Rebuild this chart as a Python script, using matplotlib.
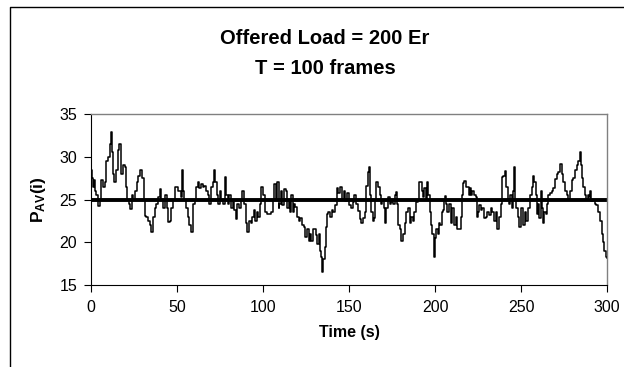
import matplotlib
matplotlib.use('Agg')
import matplotlib.pyplot as plt
from matplotlib.lines import Line2D

plt.rcParams['font.family'] = ['Liberation Sans', 'DejaVu Sans']
plt.rcParams['mathtext.fontset'] = 'custom'
plt.rcParams['mathtext.rm'] = 'Liberation Sans'
plt.rcParams['mathtext.bf'] = 'Liberation Sans:bold'

# time (s) and P_AV(i)
t = [0, 0.6, 1.2, 1.8, 2.1, 3.1, 4.1, 5.0, 6.0, 7.0, 8.0, 8.9, 9.9, 10.9, 11.4,
     12.2, 12.8, 13.4, 14.7, 15.7, 16.3, 17.1, 17.6, 18.6, 19.6, 20.5, 21.1,
     21.9, 22.5, 23.5, 24.4, 25.4, 26.4, 27.3, 28.3, 29.3, 29.8, 30.6, 31.2,
     32.2, 33.2, 34.1, 35.1, 36.0, 37.0, 38.0, 39.0, 39.9, 40.9, 41.9, 43.2,
     44.0, 44.8, 45.7, 46.7, 47.7, 49.0, 50.6,
     51.2, 52.2, 53.1, 53.7, 54.1, 55.1, 56.1, 57.0, 58.0, 59.0, 59.5, 60.3,
     60.9, 61.9, 62.8, 63.8, 64.8, 65.7, 66.7, 67.7, 68.6, 69.6, 70.6, 71.2,
     71.9, 73.1, 73.9, 74.8, 75.8, 76.8, 77.8, 78.5, 79.3, 80.3, 81.2, 82.2,
     83.2, 84.2, 85.1, 86.1, 87.1, 88.0, 89.0, 90.0, 90.9, 91.9, 92.9, 93.8,
     94.8, 95.4, 96.4, 97.1, 97.9, 98.7, 99.7,
     100.2, 101.2, 102.2, 103.7, 104.7, 105.7, 106.4, 107.4, 108.0, 109.0,
     109.5, 110.3, 111.1, 111.9, 112.4, 113.2, 113.8, 114.8, 115.4, 116.1,
     117.1, 117.7, 118.6, 119.6, 120.6, 121.6, 122.5, 123.5, 124.5, 125.4,
     126.4, 127.4, 128.0, 128.9, 129.7, 130.7, 131.6, 132.2, 133.2, 133.8,
     134.3, 135.1, 135.7, 136.5, 137.1, 138.0, 139.0, 140.0, 140.9, 141.9,
     142.9, 143.8, 144.8, 145.8, 146.8, 147.7, 148.7, 149.7,
     150.2, 151.2, 152.2, 153.1, 154.1, 155.1, 156.1, 157.0, 158.0, 159.0,
     159.9, 160.9, 161.5, 162.3, 163.0, 163.8, 164.2, 165.0, 165.7, 166.7,
     167.7, 168.3, 169.2, 170.2, 171.0, 171.6, 172.5, 173.5, 174.5, 175.4,
     176.4, 177.4, 178.0, 178.7, 179.3, 180.3, 181.2, 182.2, 183.2, 184.2,
     185.1, 186.1, 187.1, 188.0, 189.0, 190.0, 190.5, 191.3, 192.1, 192.9,
     193.8, 194.4, 195.2, 196.0, 196.8, 197.7, 198.3, 199.1, 199.9,
     200.6, 201.4, 202.2, 203.1, 203.7, 204.5, 205.1, 205.7, 206.4, 207.0,
     208.0, 209.0, 209.9, 210.9, 211.9, 212.8, 213.8, 214.8, 215.4, 216.1,
     216.9, 217.7, 218.6, 219.6, 220.2, 221.0, 221.7, 222.5, 223.5, 224.1,
     224.9, 225.4, 226.4, 227.4, 228.3, 229.3, 230.3, 231.2, 232.2, 233.2,
     234.2, 235.1, 236.1, 237.1, 238.0, 238.6, 239.4, 240.5, 241.3, 242.1,
     242.9, 243.6, 244.4, 245.2, 245.8, 246.4, 247.1, 247.9, 248.7, 249.7,
     250.2, 251.2, 252.2, 253.1, 254.1, 255.1, 256.1, 256.8, 257.6, 258.4,
     259.2, 259.9, 260.5, 261.3, 261.9, 262.6, 263.4, 264.2, 265.0, 265.7,
     266.7, 267.7, 268.6, 269.6, 270.6, 271.6, 272.5, 273.5, 274.5, 275.4,
     276.4, 277.4, 278.3, 279.3, 280.3, 281.2, 282.2, 283.2, 284.0, 284.7,
     285.5, 286.1, 287.1, 287.8, 288.6, 289.4, 290.2, 290.9, 291.9, 292.9,
     293.8, 294.8, 295.8, 296.8, 297.5, 298.3, 299.1, 300.0]

p_av = [28.5, 27.5, 26.5, 27.3, 26.0, 25.5, 24.2, 25.0, 27.3, 26.5, 27.0, 29.5,
        30.0, 31.5, 32.9, 30.5, 28.0, 27.0, 28.5, 30.8, 31.5, 29.0, 28.0, 29.0,
        28.8, 26.5, 25.0, 24.5, 23.9, 25.5, 25.0, 26.0, 27.0, 27.8, 28.5, 28.0,
        27.5, 25.0, 23.1, 23.0, 22.5, 22.0, 21.2, 23.0, 24.0, 24.5, 25.3, 26.2,
        25.0, 24.0, 25.5, 24.0, 22.4, 22.5, 24.0, 25.0, 26.5, 26.0,
        26.0, 25.3, 28.4, 26.0, 25.0, 24.0, 23.0, 22.0, 21.2, 22.0, 24.5, 25.0,
        26.5, 27.0, 26.3, 26.8, 26.5, 26.6, 26.0, 25.5, 24.5, 26.5, 27.0, 28.5,
        27.0, 25.5, 24.5, 26.0, 25.0, 24.5, 27.6, 25.5, 24.5, 25.5, 24.0, 25.0,
        23.8, 22.7, 24.5, 24.0, 25.0, 26.0, 24.5, 22.2, 21.2, 22.5, 22.3, 23.0,
        23.8, 22.5, 23.5, 23.0, 24.5, 26.5, 26.0,
        25.5, 23.5, 23.3, 23.3, 23.5, 25.0, 26.8, 25.0, 27.0, 24.0,
        24.5, 26.0, 24.3, 24.8, 26.2, 26.0, 24.0, 25.0, 23.5, 25.5,
        23.5, 24.5, 24.1, 23.0, 22.5, 22.8, 22.0, 21.8, 20.6, 21.5,
        20.2, 21.0, 20.2, 21.6, 21.5, 20.8, 19.8, 21.0, 19.0, 18.3,
        16.5, 18.0, 19.4, 21.8, 23.3, 23.5, 23.0, 23.8, 23.5, 24.3,
        26.4, 25.8, 26.5, 25.0, 26.0, 24.8, 25.8, 25.0,
        24.3, 24.0, 24.7, 25.5, 24.5, 23.7, 22.7, 22.3, 22.8, 23.5,
        26.6, 28.2, 28.8, 25.5, 23.5, 22.5, 22.8, 25.0, 27.0, 26.5,
        25.5, 24.5, 25.0, 24.0, 22.2, 24.0, 25.3, 24.5, 24.7, 24.5,
        25.5, 25.9, 24.5, 22.0, 21.6, 20.2, 21.0, 22.3, 23.5, 24.0,
        22.3, 23.0, 22.5, 23.5, 24.7, 25.0, 27.0, 27.0, 26.0, 25.3,
        26.3, 25.0, 27.1, 25.5, 23.5, 22.0, 21.0, 18.3, 20.5,
        21.5, 21.0, 22.3, 22.0, 23.5, 23.8, 25.0, 25.4, 24.5, 23.5,
        24.5, 22.3, 24.0, 22.0, 23.0, 21.5, 21.5, 23.0, 25.5, 26.9,
        27.2, 26.5, 26.5, 25.5, 26.3, 25.5, 26.0, 25.5, 25.3, 22.9,
        23.5, 24.3, 23.8, 24.0, 22.8, 23.0, 23.5, 23.2, 24.0, 23.5,
        22.5, 23.5, 21.6, 23.0, 24.5, 27.6, 27.8, 28.3, 26.5, 25.0,
        24.5, 25.5, 24.0, 26.0, 28.8, 25.0, 24.0, 23.0, 21.8, 23.5,
        24.0, 22.0, 23.5, 22.5, 24.0, 25.5, 26.5, 27.7, 27.0, 25.5,
        23.3, 24.5, 22.8, 26.0, 24.0, 22.2, 23.5, 23.3, 24.5, 25.5,
        25.8, 26.0, 26.3, 27.4, 28.0, 28.2, 29.2, 28.0, 27.0, 26.0,
        25.5, 25.0, 26.0, 27.3, 27.5, 28.5, 29.0, 29.5, 30.5, 29.0,
        27.5, 26.5, 25.5, 25.0, 25.5, 25.3, 26.0, 24.8, 25.0, 24.5,
        24.3, 23.5, 22.5, 21.0, 20.0, 19.0, 18.3, 18.2]

mean_level = 25
x_ticks = [0, 50, 100, 150, 200, 250, 300]
y_ticks = [15, 20, 25, 30, 35]

fig = plt.figure(figsize=(6.24, 3.67), dpi=100)
ax = fig.add_axes([0.146, 0.2234, 0.827, 0.466])

ax.plot(t, p_av, color='black', lw=1.1, drawstyle='steps-post')
ax.axhline(mean_level, color='black', lw=2.8)

ax.set_xlim(0, 300)
ax.set_ylim(15, 35)
ax.set_xticks(x_ticks)
ax.set_yticks(y_ticks)
ax.tick_params(direction='out', length=5, width=0.8, labelsize=11.5, color='black')
ax.tick_params(axis='x', pad=6)
ax.tick_params(axis='y', pad=5)

for s in ['top', 'right']:
    ax.spines[s].set_color('#808080')
    ax.spines[s].set_linewidth(1.0)
for s in ['left', 'bottom']:
    ax.spines[s].set_color('black')
    ax.spines[s].set_linewidth(0.8)

ax.set_xlabel('Time (s)', fontsize=11.5, fontweight='bold', labelpad=7)
ax.set_ylabel(r'$\mathbf{P_{AV}(i)}$', fontsize=12.5, labelpad=8)

fig.text(0.521, 0.895, 'Offered Load = 200 Er', ha='center', va='center',
         fontsize=14.5, fontweight='bold')
fig.text(0.521, 0.813, 'T = 100 frames', ha='center', va='center',
         fontsize=14.5, fontweight='bold')

# chart border (only left and top edges are inside the picture)
bx = 10 / 624
by = 1 - 7 / 367
fig.add_artist(Line2D([bx, bx, 1.0], [0.0, by, by], color='black', lw=1.0,
                      transform=fig.transFigure))

fig.savefig('out.png', dpi=100)
